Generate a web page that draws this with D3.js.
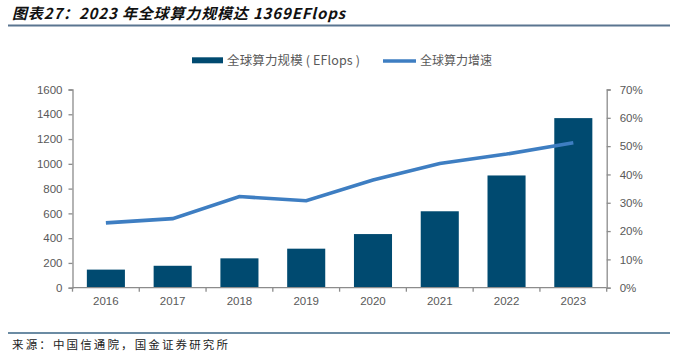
<!DOCTYPE html>
<html><head><meta charset="utf-8">
<script src="https://cdn.jsdelivr.net/npm/d3@7"></script>
<style>body{margin:0;background:#fff}svg{display:block}</style>
</head><body><svg id="c" width="674" height="356"></svg>
<script>
const years = ["2016","2017","2018","2019","2020","2021","2022","2023"];
const scale = [146,177,237,315,433,617,906,1369];
const growth = [22.9,24.4,32.2,30.7,38.0,43.9,47.2,51.2];
const leftTicks = [0,200,400,600,800,1000,1200,1400,1600];
const rightTicks = [0,10,20,30,40,50,60,70];
const title = "图表27：2023 年全球算力规模达 1369EFlops";
const source = "来源：中国信通院，国金证券研究所";
const legendNames = ["全球算力规模 ( EFlops )","全球算力增速"];

const svg = d3.select("#c");
const font = "'Liberation Sans', Arial, sans-serif";
const cjk = "'Noto Sans CJK SC', sans-serif";
const m = {l:72.5, r:606.7, t:89.5, b:287.7};
const x = d3.scaleBand().domain(years).range([m.l, m.r]).paddingInner(0.43).paddingOuter(0.215);
const xb = d3.scaleBand().domain(years).range([m.l, m.r]);
const yL = d3.scaleLinear().domain([0,1600]).range([m.b, m.t]);
const yR = d3.scaleLinear().domain([0,70]).range([m.b, m.t]);
const axisColor = "#8c8c8c", textColor = "#595959";

// title
svg.append("text").attr("x",12).attr("y",19).text(title)
  .attr("font-family",cjk).attr("font-size",15).attr("font-weight","bold")
  .attr("font-style","italic").attr("fill","#111")
  .attr("textLength",333).attr("lengthAdjust","spacing");
svg.append("line").attr("x1",8).attr("x2",670).attr("y1",25.5).attr("y2",25.5)
  .attr("stroke","#5a7590").attr("stroke-width",2);
// source
svg.append("line").attr("x1",8).attr("x2",670).attr("y1",333).attr("y2",333)
  .attr("stroke","#3a6585").attr("stroke-width",1.5);
svg.append("text").attr("x",12).attr("y",349).text(source)
  .attr("font-family",cjk).attr("font-size",11.5).attr("fill","#222")
  .attr("textLength",216).attr("lengthAdjust","spacing");

// bars
svg.append("g").selectAll("rect").data(years).join("rect")
  .attr("x",d=>x(d)).attr("width",x.bandwidth())
  .attr("y",(d,i)=>yL(scale[i])).attr("height",(d,i)=>m.b - yL(scale[i]))
  .attr("fill","#004a70");

// line
svg.append("path").datum(growth)
  .attr("d", d3.line().x((d,i)=>xb(years[i])+xb.bandwidth()/2).y(d=>yR(d)))
  .attr("fill","none").attr("stroke","#3e7ec2").attr("stroke-width",3.6);

// axes
function style(g){
  g.selectAll("path,line").attr("stroke",axisColor).attr("stroke-width",1.3);
  g.selectAll("text").attr("fill",textColor).attr("font-family",font).attr("font-size",11.5);
}
svg.append("g").attr("transform",`translate(${m.l},0)`)
  .call(d3.axisLeft(yL).tickValues(leftTicks).tickSize(4).tickSizeOuter(4).tickPadding(6).tickFormat(d3.format("d")))
  .call(style);
svg.append("g").attr("transform",`translate(${m.r},0)`)
  .call(d3.axisRight(yR).tickValues(rightTicks).tickSize(4).tickSizeOuter(4).tickPadding(9).tickFormat(d=>d+"%"))
  .call(style);
// x axis
const gx = svg.append("g").attr("transform",`translate(0,${m.b})`);
gx.append("line").attr("x1",m.l).attr("x2",m.r).attr("y1",0).attr("y2",0);
gx.selectAll("line.t").data(d3.range(years.length+1)).join("line").attr("class","t")
  .attr("x1",i=>m.l+i*xb.step()).attr("x2",i=>m.l+i*xb.step()).attr("y1",0).attr("y2",4);
gx.selectAll("text").data(years).join("text")
  .attr("x",d=>xb(d)+xb.bandwidth()/2).attr("y",17.5).attr("text-anchor","middle").text(d=>d);
style(gx);

// legend
const lg = svg.append("g");
lg.append("rect").attr("x",192).attr("y",57.3).attr("width",31).attr("height",6).attr("fill","#004a70");
lg.append("text").attr("x",227).attr("y",65).text(legendNames[0])
  .attr("font-family",cjk).attr("font-size",12.5).attr("fill",textColor)
  .attr("textLength",133).attr("lengthAdjust","spacing");
lg.append("line").attr("x1",383).attr("x2",416).attr("y1",61).attr("y2",61)
  .attr("stroke","#3e7ec2").attr("stroke-width",3.6);
lg.append("text").attr("x",420).attr("y",65).text(legendNames[1])
  .attr("font-family",cjk).attr("font-size",12).attr("fill",textColor);
</script></body></html>
